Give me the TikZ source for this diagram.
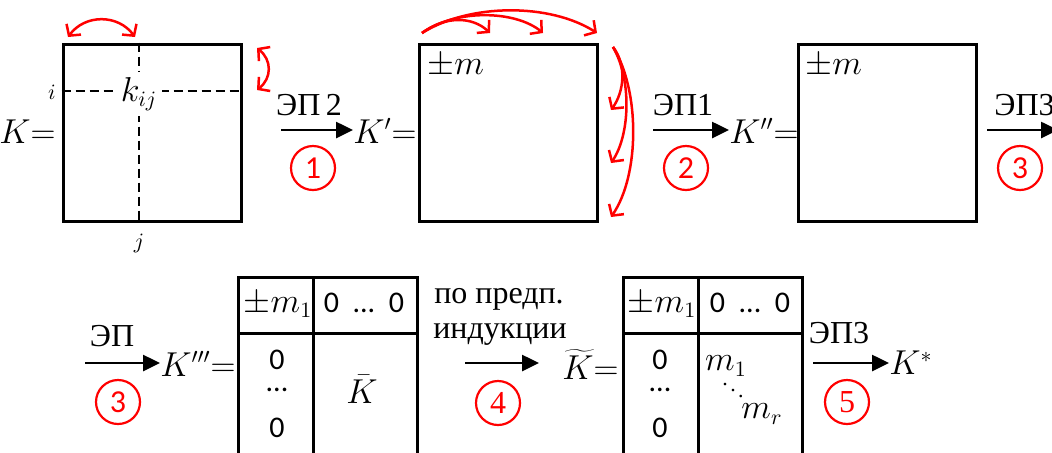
\documentclass[tikz,border=0pt]{standalone}
\usepackage{fontspec}
\setmainfont{Liberation Serif}
\newfontfamily\calib{Carlito}
\usetikzlibrary{arrows.meta}
\begin{document}
\begin{tikzpicture}[x=0.5pt,y=-0.5pt,
  every node/.style={font=\fontsize{16}{18}\selectfont, inner sep=0pt},
  box/.style={draw, line width=1.5pt, minimum width=89pt, minimum height=88.5pt},
  blk/.style={line width=1.3pt, -{Triangle[length=8.5pt,width=8pt]}},
  redarr/.style={draw=red, line width=1.25pt, -{Straight Barb[length=4pt,width=9pt]}},
  redboth/.style={draw=red, line width=1.25pt, {Straight Barb[length=4pt,width=9pt]}-{Straight Barb[length=4pt,width=9pt]}},
  num/.style={circle, draw=red, line width=1.1pt, minimum size=22pt, text=red},
  dsh/.style={line width=1.25pt, dash pattern=on 4.5pt off 2.5pt},
  tab/.style={line width=1.5pt},
  cell/.style={font=\fontsize{15}{17}\selectfont\calib},
  small/.style={font=\fontsize{11}{13}\selectfont},
]
\useasboundingbox (0,0) rectangle (1052,452);
\clip (0,0) rectangle (1052,452);

% ---------- first matrix K ----------
\node[box] (M1) at (152,132.5) {};
\coordinate (v1) at (139,0);
\coordinate (h1) at (0,91);
\draw[dsh] (v1 |- M1.north) -- (v1 |- M1.south);
\draw[dsh] (M1.west |- h1) -- (M1.east |- h1);
\node[fill=white, inner sep=2.5pt] (kij) at (139,94) {$k_{ij}$};
\node[small] (li) at (52,92) {$i$};
\node[small] (lj) at (139,243) {$j$};
\node[anchor=east] (K0) at (56,132) {$K{=}$};
\coordinate (t1a) at (68,37);
\coordinate (t1b) at (135,37);
\draw[redboth] (t1a) .. controls (85,14) and (118,14) .. (t1b);
\coordinate (r1a) at (257,48);
\coordinate (r1b) at (257,90);
\draw[redboth] (r1a) .. controls (272,60) and (272,78) .. (r1b);

% ---------- arrow 1 ----------
\coordinate (a1) at (281,130);
\node[anchor=west] (Kp) at (353,131) {$K'{=}$};
\draw[blk] (a1) -- (a1 -| Kp.west);
\node (l1) at (309,105) {ЭП\,2};
\node[num] (c1) at (313,168) {\calib 1};

% ---------- second matrix K' ----------
\node[box] (M2) at (508.5,132.5) {};
\node[anchor=west] (pm2) at (427,66) {$\pm m$};
\coordinate (s2) at (422,33);
\coordinate (e2a) at (490,33);
\coordinate (e2b) at (543,33);
\coordinate (e2c) at (597,33);
\draw[redarr] (s2) .. controls (445,16) and (472,16) .. (e2a);
\draw[redarr] (s2) .. controls (455,9) and (515,10) .. (e2b);
\draw[redarr] (s2) .. controls (470,3) and (550,3) .. (e2c);
\coordinate (s3) at (613,47);
\coordinate (e3a) at (611,110);
\coordinate (e3b) at (611,163);
\coordinate (e3c) at (611,217);
\draw[redarr] (s3) .. controls (627,65) and (624,92) .. (e3a);
\draw[redarr] (s3) .. controls (632,80) and (630,135) .. (e3b);
\draw[redarr] (s3) .. controls (640,90) and (640,175) .. (e3c);

% ---------- arrow 2 ----------
\coordinate (a2) at (653,130);
\node[anchor=west] (Kpp) at (729,131) {$K''{=}$};
\draw[blk] (a2) -- (a2 -| Kpp.west);
\node (l2) at (683,105) {ЭП1};
\node[num] (c2) at (686,168) {\calib 2};

% ---------- third matrix K'' ----------
\node[box] (M3) at (887,132.5) {};
\node[anchor=west] (pm3) at (805,66) {$\pm m$};

% ---------- arrow 3 (cut at right edge) ----------
\coordinate (a3) at (987,130);
\coordinate (e3) at (1058,130);
\draw[blk] (a3) -- (e3);
\node[anchor=west] (l3) at (994,105) {ЭП3};
\node[num] (c3) at (1020,168) {\calib 3};

% ---------- row 2: arrow ЭП ----------
\coordinate (a4) at (85,363);
\node[anchor=west] (K3) at (160,364) {$K'''{=}$};
\draw[blk] (a4) -- (a4 -| K3.west);
\node (l4) at (112,336) {ЭП};
\node[num] (c4) at (118,402) {\calib 3};

% ---------- table 1 ----------
\coordinate (T1nw) at (238,277);
\coordinate (T1ne) at (417,277);
\coordinate (T1m) at (313,277);
\draw[tab] (238,470) -- (T1nw) -- (T1ne) -- (417,470);
\draw[tab] (T1m) -- (313,470);
\draw[tab] (238,333) -- (417,333);
\node (t1a) at (278,305) {$\pm m_1$};
\node[cell] (t1b) at (364,303) {0\hspace{0.45em}...\hspace{0.45em}0};
\node[cell] (t1c) at (277,360) {0};
\node[cell] (t1d) at (277,390) {...};
\node[cell] (t1e) at (277,428) {0};
\node (t1f) at (362,389) {$\bar{K}$};

% ---------- arrow 4 ----------
\coordinate (a5) at (465,363);
\coordinate (e5) at (539,363);
\draw[blk] (a5) -- (e5);
\node (l5a) at (499,299) {по предп.};
\node (l5b) at (500,335) {индукции};
\node[num] (c5) at (498,403) {4};
\node[anchor=east] (Kt) at (619,364) {$\widetilde{K}{=}$};

% ---------- table 2 ----------
\coordinate (T2nw) at (623,277);
\coordinate (T2ne) at (802,277);
\coordinate (T2m) at (698,277);
\draw[tab] (623,470) -- (T2nw) -- (T2ne) -- (802,470);
\draw[tab] (T2m) -- (698,470);
\draw[tab] (623,333) -- (802,333);
\node (t2a) at (662,305) {$\pm m_1$};
\node[cell] (t2b) at (750,303) {0\hspace{0.45em}...\hspace{0.45em}0};
\node[cell] (t2c) at (660,360) {0};
\node[cell] (t2d) at (660,390) {...};
\node[cell] (t2e) at (660,428) {0};
\node (t2f) at (726,366) {$m_1$};
\node[font=\fontsize{11}{13}\selectfont] (t2g) at (733,384) {$\ddots$};
\node (t2h) at (762,414) {$m_r$};

% ---------- arrow 5 ----------
\coordinate (a6) at (813,363);
\node[anchor=west] (Ks) at (889,363) {$K^{*}$};
\draw[blk] (a6) -- (a6 -| Ks.west);
\node (l6) at (839,333) {ЭП3};
\node[num] (c6) at (847,402) {5};
\end{tikzpicture}
\end{document}
